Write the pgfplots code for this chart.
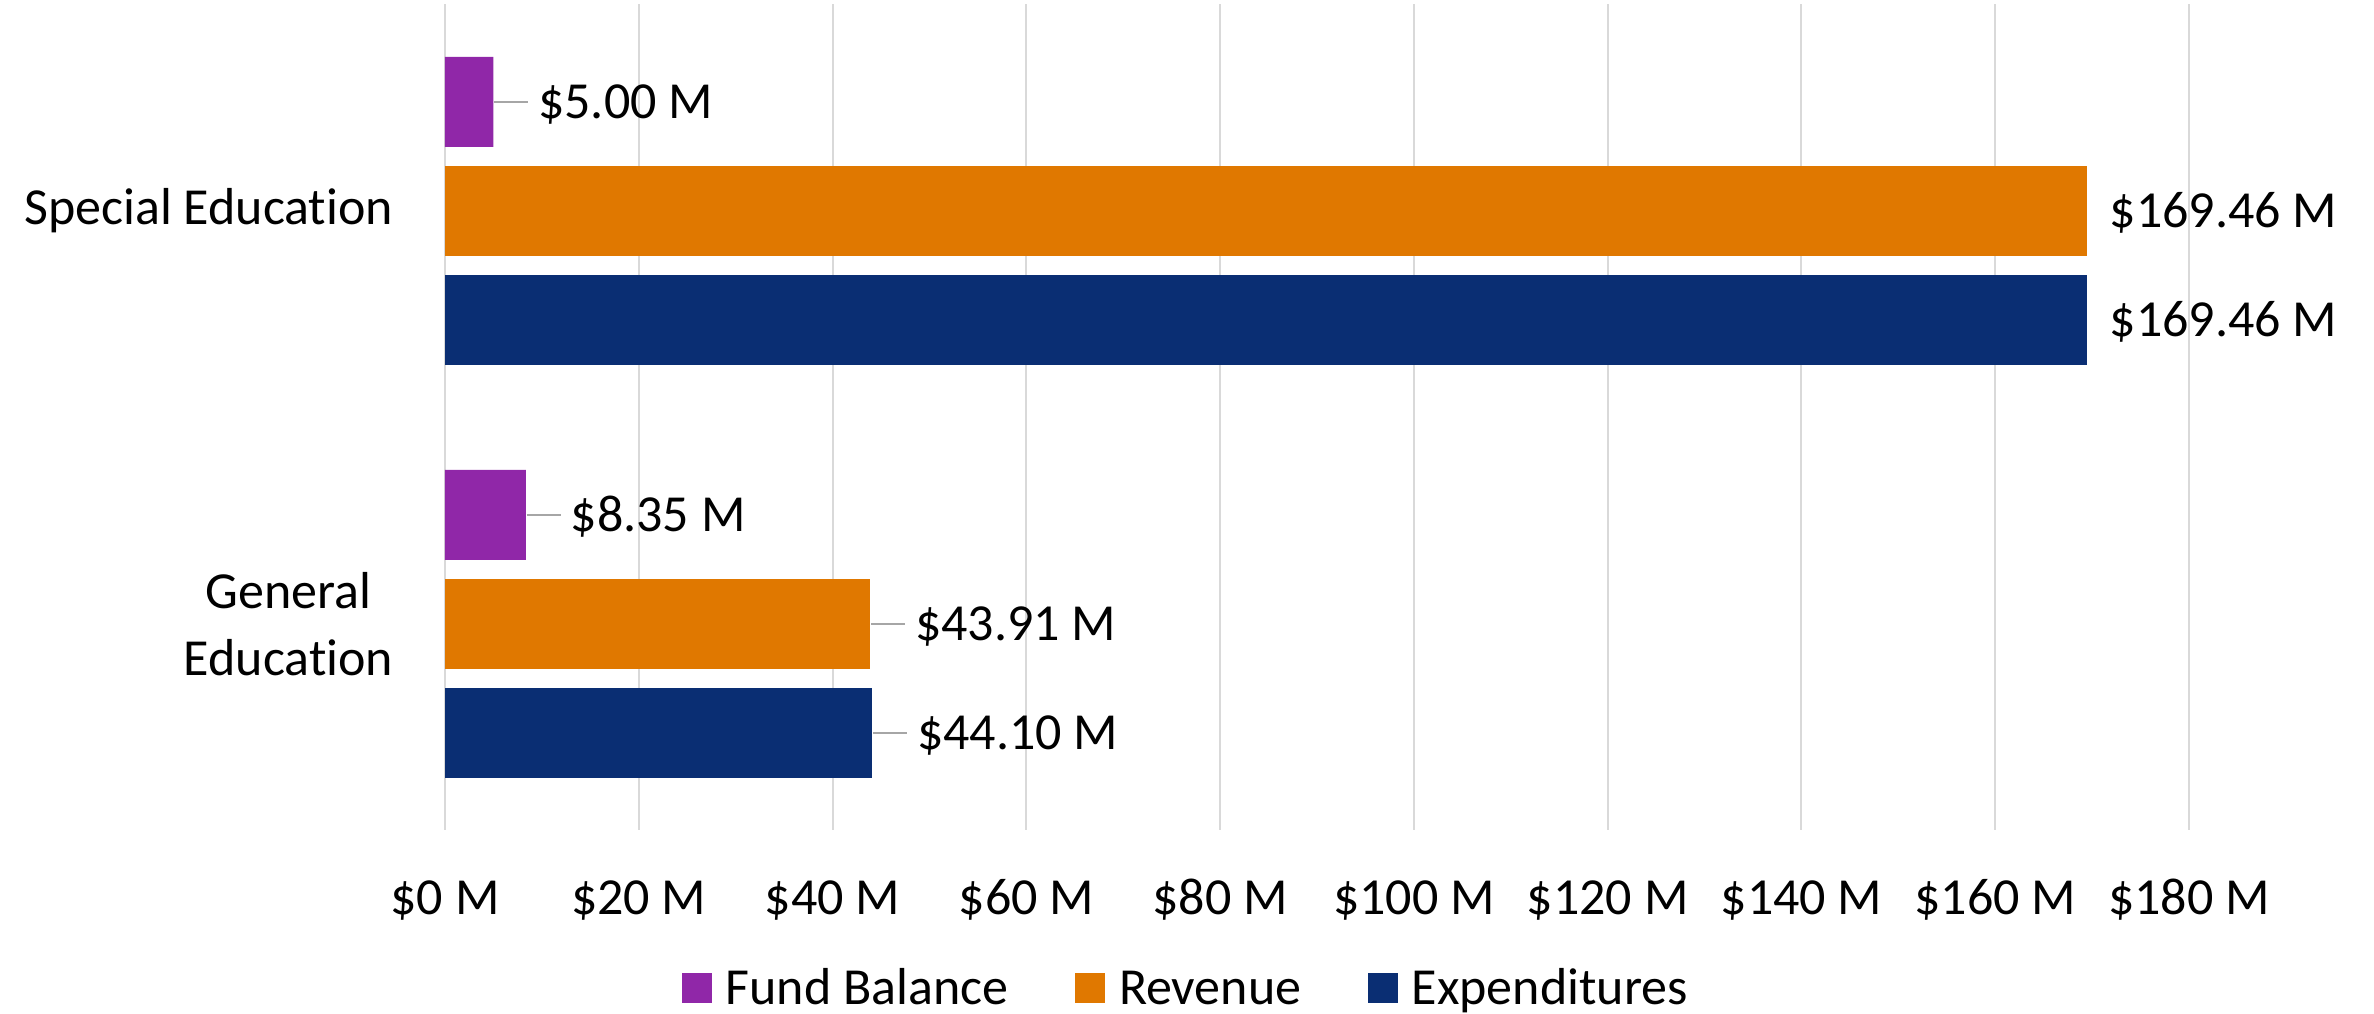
\documentclass[border=0pt]{standalone}
\usepackage{pgfplots}
\pgfplotsset{compat=1.18}
\usepackage{fontspec}
\setmainfont{Carlito}[Ligatures={NoCommon,NoContextual}]
\definecolor{cFB}{RGB}{144,39,168}
\definecolor{cRev}{RGB}{224,120,0}
\definecolor{cExp}{RGB}{10,46,115}
\definecolor{cGrid}{RGB}{217,217,217}
\definecolor{cLead}{RGB}{166,166,166}

\pgfplotsset{
  leadlab/.style={nodes near coords={{\color{cLead}\rule[3.9pt]{8.5pt}{0.45pt}}\hspace{2.5pt}\$\pgfmathprintnumber[fixed,fixed zerofill,precision=2,assume math mode=true]{\pgfplotspointmeta}\ M}},
  plainlab/.style={nodes near coords={\hspace{5.5pt}\$\pgfmathprintnumber[fixed,fixed zerofill,precision=2,assume math mode=true]{\pgfplotspointmeta}\ M}},
}

\begin{document}
\fontsize{13}{16.7}\selectfont
\begin{tikzpicture}
\begin{axis}[
  name=ax,
  scale only axis,
  width=436pt, height=206.5pt,
  xbar,
  xmin=0, xmax=180,
  ymin=-0.5, ymax=1.5,
  y dir=reverse,
  axis line style={draw=none},
  major tick length=0pt,
  xtick={0,20,...,180},
  xticklabels={\$0 M,\$20 M,\$40 M,\$60 M,\$80 M,\$100 M,\$120 M,\$140 M,\$160 M,\$180 M},
  xticklabel style={anchor=base, inner sep=0pt, yshift=-21.1pt, font=\fontsize{13}{16.7}\selectfont},
  ytick={0,1},
  yticklabels={Special Education,{General\\Education}},
  yticklabel style={align=center, anchor=east, inner sep=0pt, xshift=-12.75pt, font=\fontsize{13}{16.7}\selectfont},
  xmajorgrids,
  grid style={cGrid, line width=0.5pt},
  bar width=0.218,
  point meta=x,
  nodes near coords align={horizontal},
  every node near coord/.append style={anchor=base west, inner sep=0pt, yshift=-4.2pt, text=black, font=\fontsize{13}{16.7}\selectfont},
  legend columns=3,
  legend style={at={(axis description cs:0.4243,-0.1907)}, anchor=center, draw=none, fill=none,
    inner sep=0pt, font=\fontsize{13}{16.7}\selectfont,
    nodes={inner sep=0pt, text height=8.4pt, text depth=0pt},
    /tikz/every odd column/.append style={column sep=3.4pt},
    /tikz/every even column/.append style={column sep=16.7pt}},
  legend image code/.code={\fill[#1] (0pt,-3.75pt) rectangle (7.5pt,3.75pt);},
]
% y: 0 = Special Education, 1 = General Education
\addplot[fill=cFB, draw=none, bar shift=-0.264, leadlab] coordinates {(5.00,0) (8.35,1)};
\addlegendentry{Fund Balance}
\addplot[fill=cRev, draw=none, bar shift=0, plainlab] coordinates {(169.46,0)};
\addlegendentry{Revenue}
\addplot[fill=cExp, draw=none, bar shift=0.264, plainlab] coordinates {(169.46,0)};
\addlegendentry{Expenditures}
\addplot[fill=cRev, draw=none, bar shift=0, leadlab, forget plot] coordinates {(43.91,1)};
\addplot[fill=cExp, draw=none, bar shift=0.264, leadlab, forget plot] coordinates {(44.10,1)};
\end{axis}
\path ([xshift=-111.25pt,yshift=-45.75pt]ax.south west) rectangle ([xshift=46.25pt,yshift=1.1pt]ax.north east);
\end{tikzpicture}
\end{document}
